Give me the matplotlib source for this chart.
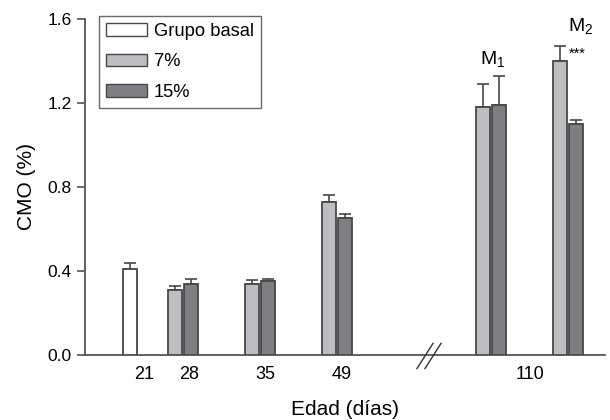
import numpy as np
import matplotlib
matplotlib.use("Agg")
import matplotlib.pyplot as plt
from matplotlib.patches import Patch

plt.rcParams['font.family'] = ['Liberation Sans', 'DejaVu Sans']
plt.rcParams['mathtext.fontset'] = 'custom'
plt.rcParams['mathtext.rm'] = 'Liberation Sans'
plt.rcParams['mathtext.it'] = 'Liberation Sans'

# data
days = ["21", "28", "35", "49", "110"]
basal_mean = [0.41]
basal_err = [0.03]
p7_mean = [0.31, 0.34, 0.73, 1.18, 1.40]
p7_err = [0.02, 0.015, 0.03, 0.11, 0.07]
p15_mean = [0.34, 0.35, 0.65, 1.19, 1.10]
p15_err = [0.02, 0.012, 0.02, 0.14, 0.02]

# layout (x axis in arbitrary units, 1 unit ~ 1 px)
basal_pos = [45]
pair_pos = np.array([98, 175, 252, 406, 483])
label_pos = [59, 104, 180, 257, 445]
w = 14
off = 8

light = "#bdbec2"
dark = "#7e7f83"
edge = "#474747"

fig = plt.figure(figsize=(6.1, 4.2), dpi=100)
ax = fig.add_axes([0.139, 0.155, 0.853, 0.80])

ax.bar(basal_pos, basal_mean, w, color="white", edgecolor=edge, lw=1.3, zorder=3)
ax.bar(pair_pos - off, p7_mean, w, color=light, edgecolor=edge, lw=1.3, zorder=3)
ax.bar(pair_pos + off, p15_mean, w, color=dark, edgecolor=edge, lw=1.3, zorder=3)

for pos, m, e in [(basal_pos, basal_mean, basal_err),
                  (pair_pos - off, p7_mean, p7_err),
                  (pair_pos + off, p15_mean, p15_err)]:
    e = np.array(e)
    ax.errorbar(pos, m, yerr=[np.zeros_like(e), e], fmt="none",
                ecolor=edge, elinewidth=1.2, capsize=4, capthick=1.2, zorder=2)

ax.set_xlim(0, 520)
ax.set_ylim(0, 1.6)
ax.set_yticks([0.0, 0.4, 0.8, 1.2, 1.6])
ax.set_yticklabels(["0.0", "0.4", "0.8", "1.2", "1.6"])
ax.set_xticks(label_pos)
ax.set_xticklabels(days)
ax.tick_params(axis="x", length=0, labelsize=13, pad=8)
ax.tick_params(axis="y", length=6, width=1.2, color="#555555", labelsize=12.5)

for s in ["top", "right"]:
    ax.spines[s].set_visible(False)
for s in ["left", "bottom"]:
    ax.spines[s].set_color("#555555")
    ax.spines[s].set_linewidth(1.3)

ax.set_ylabel("CMO (%)", fontsize=15, labelpad=8)
ax.set_xlabel("Edad (días)", fontsize=15, labelpad=12)

# axis break mark
for dx in [0, 8]:
    ax.plot([332 + dx, 348 + dx], [-0.065, 0.055], color="#333333", lw=1,
            clip_on=False, zorder=4)

# annotations
ax.text(pair_pos[3] - 11, 1.385, "M$_1$", fontsize=14, ha="left", va="baseline")
ax.text(pair_pos[4], 1.54, "M$_2$", fontsize=14, ha="left", va="baseline")
ax.text(pair_pos[4] + 1, 1.435, "***", fontsize=10.5, ha="left", va="center")

handles = [Patch(facecolor="white", edgecolor=edge),
           Patch(facecolor=light, edgecolor=edge),
           Patch(facecolor=dark, edgecolor=edge)]
leg = ax.legend(handles, ["Grupo basal", "7%", "15%"], loc="upper left",
                bbox_to_anchor=(0.027, 1.009), fontsize=13.2, frameon=True,
                fancybox=False, edgecolor="#444444", handlelength=2.2,
                handleheight=0.7, handletextpad=0.4, labelspacing=0.72,
                borderpad=0.4, borderaxespad=0)
leg.get_frame().set_linewidth(1.0)

fig.savefig("out.png", dpi=100)
